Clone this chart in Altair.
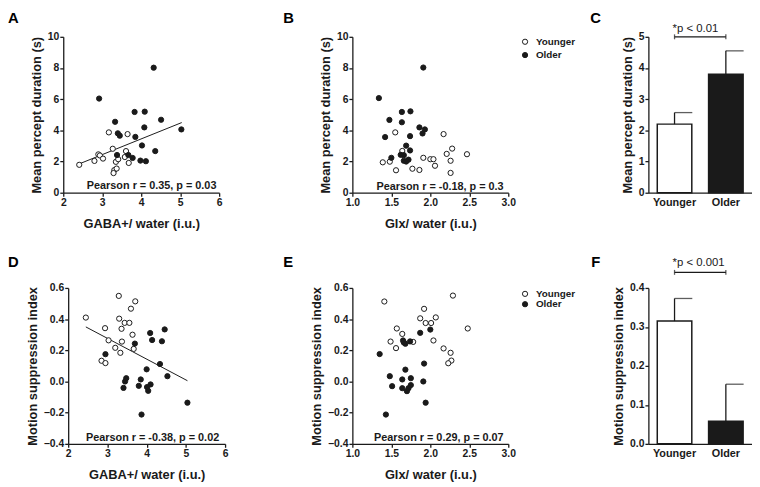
import altair as alt
import pandas as pd

FONT = "Liberation Sans"
INK = "#1a1a1a"
groups = ["Younger", "Older"]

# ---------------- Panel A: GABA+/water vs mean percept duration ----------------
a_young_x = [2.41, 2.80, 2.90, 2.94, 3.02, 3.17, 3.27, 3.35, 3.41, 3.31, 3.29, 3.37, 3.61, 3.58, 3.68, 3.65]
a_young_y = [1.79, 2.04, 2.46, 2.39, 2.19, 3.87, 2.82, 1.98, 2.15, 1.45, 1.26, 1.55, 2.67, 2.29, 1.91, 3.76]
a_old_x = [2.92, 4.32, 3.33, 3.83, 4.09, 4.51, 4.08, 5.03, 3.40, 3.45, 3.85, 4.02, 3.38, 3.67, 3.78, 4.36, 3.98, 4.12]
a_old_y = [6.04, 8.02, 4.55, 5.18, 5.20, 4.68, 4.19, 4.06, 3.81, 3.66, 3.58, 3.03, 2.42, 2.42, 2.23, 2.67, 2.06, 2.02]
a_fit_x = [2.42, 5.04]
a_fit_y = [1.86, 4.50]

# ---------------- Panel B: Glx/water vs mean percept duration ----------------
b_young_x = [1.55, 2.17, 2.28, 2.21, 2.47, 1.91, 2.00, 2.04, 2.06, 2.26, 2.26, 1.77, 1.86, 1.56, 1.39, 1.48, 1.64]
b_young_y = [3.87, 3.76, 2.83, 2.49, 2.47, 2.24, 2.15, 2.15, 1.73, 2.05, 1.27, 1.54, 1.46, 1.44, 1.95, 1.99, 2.68]
b_old_x = [1.34, 1.91, 1.635, 1.745, 1.475, 1.635, 1.86, 1.93, 1.90, 1.42, 1.74, 1.69, 1.74, 1.62, 1.66, 1.50, 1.66, 1.72, 1.69]
b_old_y = [6.07, 8.03, 5.18, 5.22, 4.67, 4.52, 4.19, 4.06, 3.80, 3.57, 3.63, 3.02, 2.71, 2.43, 2.41, 2.24, 2.05, 2.12, 2.00]

# ---------------- Panel C: mean percept duration by group ----------------
c_mean = [2.20, 3.80]
c_upper = [2.57, 4.55]

# ---------------- Panel D: GABA+/water vs motion suppression index ----------------
d_young_x = [2.45, 3.29, 3.71, 3.60, 3.30, 3.44, 3.56, 2.94, 3.36, 3.64, 3.03, 3.37, 3.20, 3.67, 3.33, 2.85, 2.95]
d_young_y = [0.410, 0.549, 0.514, 0.467, 0.403, 0.376, 0.376, 0.342, 0.338, 0.300, 0.264, 0.256, 0.216, 0.209, 0.184, 0.133, 0.118]
d_old_x = [2.95, 3.70, 4.09, 4.14, 4.46, 4.39, 4.34, 4.00, 4.53, 3.48, 3.45, 3.85, 3.41, 3.80, 4.10, 4.01, 4.04, 5.04, 3.87]
d_old_y = [0.175, 0.243, 0.311, 0.266, 0.334, 0.258, 0.112, 0.078, 0.034, 0.021, 0.000, 0.013, -0.041, -0.028, -0.019, -0.036, -0.060, -0.136, -0.212]
d_fit_x = [2.45, 5.04]
d_fit_y = [0.350, 0.005]

# ---------------- Panel E: Glx/water vs motion suppression index ----------------
e_young_x = [1.41, 2.29, 1.92, 1.87, 2.07, 1.94, 2.01, 1.57, 2.48, 1.64, 1.49, 2.04, 1.56, 2.17, 1.78, 2.26, 2.27, 2.23]
e_young_y = [0.513, 0.551, 0.466, 0.405, 0.411, 0.375, 0.375, 0.340, 0.340, 0.305, 0.256, 0.263, 0.214, 0.212, 0.254, 0.184, 0.134, 0.117]
e_old_x = [1.35, 1.87, 2.00, 1.65, 1.68, 1.74, 1.66, 1.92, 1.68, 1.48, 1.51, 1.64, 1.75, 1.91, 1.64, 1.75, 1.72, 1.70, 1.94, 1.43]
e_old_y = [0.176, 0.312, 0.333, 0.263, 0.242, 0.257, 0.250, 0.115, 0.076, 0.034, -0.030, 0.013, 0.021, 0.000, -0.043, -0.023, -0.043, -0.062, -0.136, -0.212]

# ---------------- Panel F: motion suppression index by group ----------------
f_mean = [0.315, 0.058]
f_upper = [0.373, 0.153]

fill_scale = alt.Scale(domain=groups, range=["white", INK])
H = 158
PT = 28


def pts_df(yx, yy, ox, oy):
    return pd.DataFrame({"x": yx + ox, "y": yy + oy,
                         "group": ["Younger"] * len(yx) + ["Older"] * len(ox)})


def legend_def(lx, ly, rowpad):
    return alt.Legend(orient="none", legendX=lx, legendY=ly, title=None,
                      symbolType="circle", symbolSize=PT, symbolStrokeColor=INK,
                      symbolStrokeWidth=1, labelFont=FONT, labelFontSize=10,
                      labelFontWeight="bold", labelColor=INK, labelOffset=6,
                      rowPadding=rowpad, padding=0)


def scatter(df, fit, xdom, xvals, xfmt, ydom, yvals, yfmt, xtitle, ytitle,
            ptext, pxy, letter, lxy, width, xrange_=None, yoff=0, legend=None):
    sc = {"domain": xdom, "nice": False, "zero": False}
    if xrange_ is not None:
        sc["range"] = xrange_
    X = alt.X("x:Q", scale=alt.Scale(**sc),
              axis=alt.Axis(values=xvals, format=xfmt, title=xtitle,
                            labelFlush=False, labelOverlap=False))
    Y = alt.Y("y:Q", scale=alt.Scale(domain=ydom, nice=False, zero=False),
              axis=alt.Axis(values=yvals, format=yfmt, title=ytitle, offset=yoff,
                            labelOverlap=False))
    layers = []
    if fit is not None:
        layers.append(alt.Chart(fit).mark_line(color=INK, strokeWidth=1).encode(x=X, y=Y))
    layers.append(
        alt.Chart(df).mark_point(shape="circle", filled=True, size=PT, stroke=INK,
                                 strokeWidth=1, opacity=1).encode(
            x=X, y=Y, fill=alt.Fill("group:N", scale=fill_scale, legend=legend)))
    tdf = pd.DataFrame({"x": [pxy[0]], "y": [pxy[1]], "t": [ptext]})
    layers.append(alt.Chart(tdf).mark_text(align="right", baseline="alphabetic", font=FONT,
                                           fontSize=11, fontWeight="bold", color=INK).encode(
        x=X, y=Y, text="t:N"))
    ldf = pd.DataFrame({"t": [letter]})
    layers.append(alt.Chart(ldf).mark_text(align="left", baseline="alphabetic", font=FONT,
                                           fontSize=15, fontWeight="bold", color="black").encode(
        text="t:N", x=alt.value(lxy[0]), y=alt.value(lxy[1])))
    return alt.layer(*layers).properties(width=width, height=H)


def bars(means, uppers, ydom, yvals, yfmt, ytitle, sig_text, sig_y, text_y, letter, lxy):
    bdf = pd.DataFrame({"g": groups, "m": means, "u": uppers})
    X = alt.X("g:N", sort=groups,
              scale=alt.Scale(domain=groups, paddingInner=0.327, paddingOuter=0.173, align=0.5),
              axis=alt.Axis(title=None, ticks=False, labelAngle=0, labelPadding=4,
                            labelFontSize=11))
    yscale = alt.Scale(domain=ydom, nice=False, zero=False)
    yaxis = alt.Axis(values=yvals, format=yfmt, title=ytitle, labelOverlap=False)
    bar = alt.Chart(bdf).mark_bar(stroke=INK, strokeWidth=1.5).encode(
        x=X, y=alt.Y("m:Q", scale=yscale, axis=yaxis),
        fill=alt.Fill("g:N", scale=fill_scale, legend=None))
    err = alt.Chart(bdf).mark_rule(color=INK, strokeWidth=1.3).encode(
        x=X, y=alt.Y("m:Q", scale=yscale, axis=yaxis), y2="u:Q")
    cap = alt.Chart(bdf).mark_tick(orient="horizontal", size=18, thickness=1.3,
                                   xOffset=9, color=INK).encode(
        x=X, y=alt.Y("u:Q", scale=yscale, axis=yaxis))
    sdf = pd.DataFrame({"g": groups, "y": [sig_y, sig_y]})
    brk = alt.Chart(sdf).mark_line(color=INK, strokeWidth=1.3).encode(
        x=X, y=alt.Y("y:Q", scale=yscale, axis=yaxis))
    ends = alt.Chart(sdf).mark_tick(orient="vertical", size=5, thickness=1.3, color=INK).encode(
        x=X, y=alt.Y("y:Q", scale=yscale, axis=yaxis))
    tdf = pd.DataFrame({"g": ["Younger"], "y": [text_y], "t": [sig_text]})
    txt = alt.Chart(tdf).mark_text(align="left", baseline="alphabetic", dx=-2, font=FONT,
                                   fontSize=11.5, color=INK).encode(
        x=X, y=alt.Y("y:Q", scale=yscale, axis=yaxis), text="t:N")
    ldf = pd.DataFrame({"t": [letter]})
    let = alt.Chart(ldf).mark_text(align="left", baseline="alphabetic", font=FONT,
                                   fontSize=15, fontWeight="bold", color="black").encode(
        text="t:N", x=alt.value(lxy[0]), y=alt.value(lxy[1]))
    return alt.layer(bar, err, cap, brk, ends, txt, let).properties(width=105, height=H)


dur_title = "Mean percept duration (s)"
msi_title = "Motion suppression index"
gaba_title = "GABA+/ water (i.u.)"
glx_title = "Glx/ water (i.u.)"

A = scatter(pts_df(a_young_x, a_young_y, a_old_x, a_old_y),
            pd.DataFrame({"x": a_fit_x, "y": a_fit_y}),
            [2, 6], [2, 3, 4, 5, 6], "d", [0, 10], [0, 2, 4, 6, 8, 10], "d",
            gaba_title, dur_title, "Pearson r = 0.35, p = 0.03", (5.93, 0.25),
            "A", (-56, -13.5), 158)

B = scatter(pts_df(b_young_x, b_young_y, b_old_x, b_old_y), None,
            [1, 3], [1.0, 1.5, 2.0, 2.5, 3.0], ".1f", [0, 10], [0, 2, 4, 6, 8, 10], "d",
            glx_title, dur_title, "Pearson r = -0.18, p = 0.3", (2.94, 0.2),
            "B", (-70, -13.5), 158, legend=legend_def(170, 0, 3.5))

C = bars(c_mean, c_upper, [0, 5], [0, 1, 2, 3, 4, 5], "d", dur_title,
         "*p < 0.01", 5.0, 5.15, "C", (-59, -13.5))

D = scatter(pts_df(d_young_x, d_young_y, d_old_x, d_old_y),
            pd.DataFrame({"x": d_fit_x, "y": d_fit_y}),
            [2, 6], [2, 3, 4, 5, 6], "d", [-0.4, 0.6], [-0.4, -0.2, 0.0, 0.2, 0.4, 0.6], ".1f",
            gaba_title, msi_title, "Pearson r = -0.38, p = 0.02", (5.85, -0.38),
            "D", (-56, -21.3), 164, xrange_=[5, 164], yoff=-5)

E = scatter(pts_df(e_young_x, e_young_y, e_old_x, e_old_y), None,
            [1, 3], [1.0, 1.5, 2.0, 2.5, 3.0], ".1f", [-0.4, 0.6], [-0.4, -0.2, 0.0, 0.2, 0.4, 0.6], ".1f",
            glx_title, msi_title, "Pearson r = 0.29, p = 0.07", (2.94, -0.38),
            "E", (-70, -21.3), 171, xrange_=[0, 158], legend=legend_def(170, 1, 0.5))

F = bars(f_mean, f_upper, [0, 0.4], [0.0, 0.1, 0.2, 0.3, 0.4], ".1f", msi_title,
         "*p < 0.001", 0.44, 0.457, "F", (-58, -21.3))

chart = alt.concat(A, B, C, D, E, F, columns=3, bounds="flush",
                   spacing={"row": 96.5, "column": 129}).resolve_scale(
    fill="independent").resolve_legend(fill="independent").properties(
    padding={"left": 0, "top": 0, "right": 0, "bottom": 0}
).configure_view(stroke=None).configure_axis(
    labelFont=FONT, labelFontSize=10.5, labelFontWeight="bold", labelColor=INK,
    titleFont=FONT, titleFontSize=13, titleFontWeight="bold", titleColor=INK,
    domainColor=INK, domainWidth=1.3, tickColor=INK, tickWidth=1.3, tickSize=3.5,
    grid=False, labelPadding=1
).configure_axisY(titlePadding=4).configure_axisX(titlePadding=10)

chart.save("out.html", embed_options={"renderer": "svg", "actions": False})
